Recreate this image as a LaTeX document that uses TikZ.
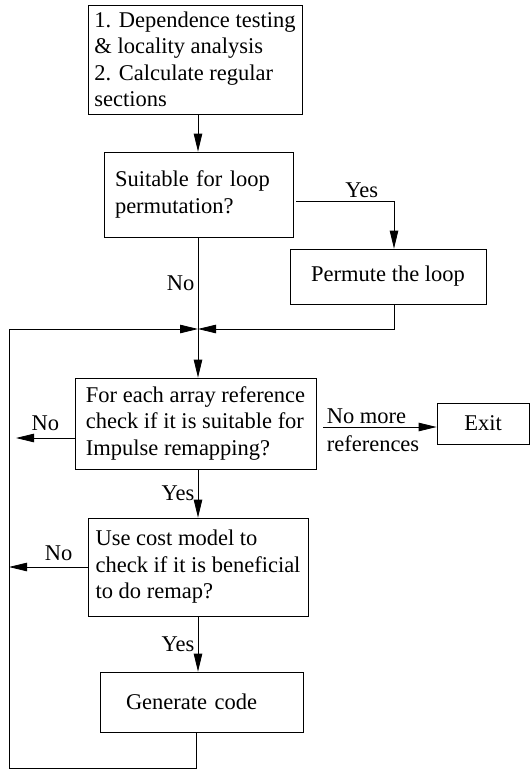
\documentclass[tikz,border=0pt]{standalone}
\usepackage{fontspec}
\setmainfont{Liberation Serif}
\usetikzlibrary{arrows.meta}
\tikzset{
  box/.style={draw, align=left, inner ysep=0pt},
  arr/.style={-{Triangle[length=18pt,width=8.5pt]}},
}
\begin{document}
\begin{tikzpicture}[x=1pt, y=-1pt, line width=0.8pt,
  every node/.style={font=\fontsize{22.5}{26.5}\selectfont}]
  \useasboundingbox (0,0) rectangle (531,773);

  % Boxes
  \node[box, minimum width=214, minimum height=109] (dep) at (195,59.5)
    {1. Dependence testing\\ \& locality analysis\\ 2. Calculate regular\\ sections};
  \node[box, text width=167pt, inner xsep=11pt, minimum height=85] (perm) at (198.5,194.5)
    {Suitable for loop\\ permutation?};
  \node[box, align=center, minimum width=196, minimum height=55] (permute) at (388,276.5)
    {Permute the loop};
  \node[box, minimum width=241, minimum height=91] (check) at (195.5,423.5)
    {For each array reference\\ check if it is suitable for\\ Impulse remapping?};
  \node[box, align=center, minimum width=92, minimum height=41] (exit) at (483,423.5) {Exit};
  \node[box, minimum width=220, minimum height=98] (cost) at (198,567)
    {Use cost model to\\ check if it is beneficial\\ to do remap?};
  \node[box, text width=151pt, inner xsep=26pt, minimum height=60] (gen) at (201.5,702)
    {Generate code};

  \coordinate (junc) at (198,329);
  \coordinate (back) at (9,768);
  \coordinate (noA) at (16,438);

  % Connectors
  \draw[arr] (dep.south -| junc) -- (perm.north -| junc);
  \draw[arr] ([xshift=3pt,yshift=-6.5pt]perm.east) -| node[above, pos=0.335] {Yes} ([xshift=6pt]permute.north);
  \draw (perm.south -| junc) -- node[left] {No} (junc);
  \draw[arr] ([xshift=6pt]permute.south) |- (junc);
  \draw[arr] ([xshift=-5pt]gen.south) |- (back) |- (junc);
  \draw[arr] (junc) -- (check.north -| junc);

  \draw[arr] (check.west |- noA) -- node[above, yshift=4pt] {No} (noA);
  \draw[arr] ([xshift=7pt,yshift=-3.5pt]check.east) -- ([yshift=-3.5pt]exit.west)
    node[pos=0, above right, inner sep=3pt] {No more}
    node[pos=0, below right, inner sep=3pt, yshift=-5pt] {references};
  \draw[arr] (check.south -| junc) -- node[left] {Yes} (cost.north -| junc);

  \draw[arr] (cost.west) -- node[above, pos=0.37, yshift=3pt] {No} (cost.west -| back);
  \draw[arr] (cost.south -| junc) -- node[left] {Yes} (gen.north -| junc);
\end{tikzpicture}
\end{document}
